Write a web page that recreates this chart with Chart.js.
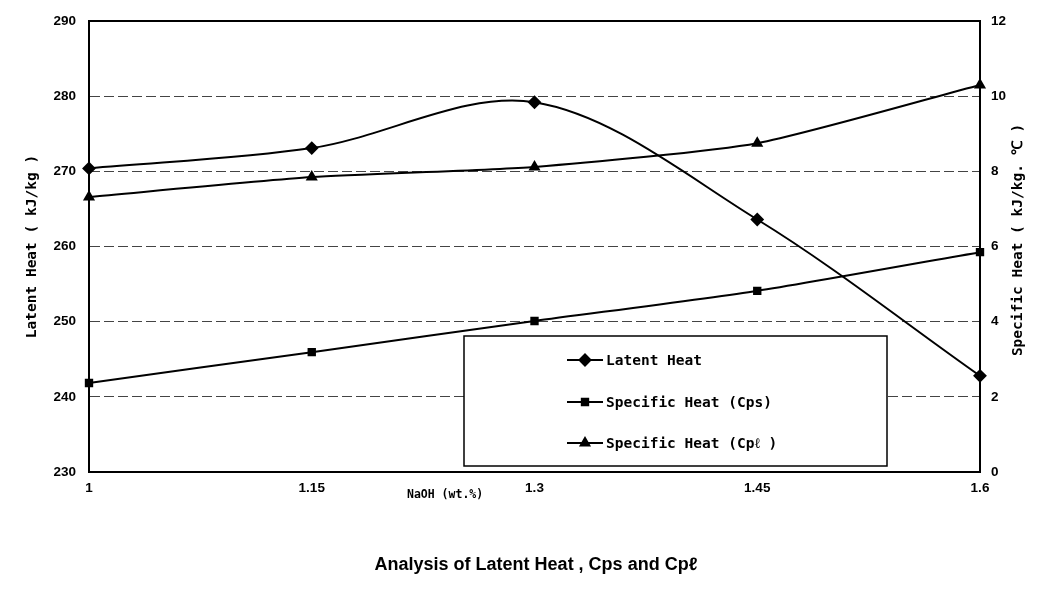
<!DOCTYPE html>
<html>
<head>
<meta charset="utf-8">
<script src="https://cdn.jsdelivr.net/npm/chart.js@4.4.1/dist/chart.umd.min.js"></script>
<style>
  html, body { margin: 0; padding: 0; background: #fff; }
  #wrap { width: 1039px; height: 594px; }
</style>
</head>
<body>
<div id="wrap"><canvas id="canvas" width="1039" height="594"></canvas></div>
<script>
// NaOH concentration (wt.%)
const naohLabels = ['1', '1.15', '1.3', '1.45', '1.6'];

// latent heat, kJ/kg (left axis)
const latentHeat = [270.4, 273.1, 279.2, 263.6, 242.8];
// specific heat of solid / liquid, kJ/kg.C (right axis)
const cpsValues = [2.37, 3.19, 4.02, 4.82, 5.85];
const cplValues = [7.32, 7.85, 8.12, 8.75, 10.3];

const leftMin = 230, leftMax = 290, leftStep = 10;
const rightMin = 0, rightMax = 12, rightStep = 2;

const seriesNames = ['Latent Heat', 'Specific Heat (Cps)', 'Specific Heat (Cp\u2113 )'];

const monoFont = "'DejaVu Sans Mono', monospace";
const tickFont = { family: "'Liberation Sans', Arial, sans-serif", size: 13.5, weight: 'bold' };

// frame, right title, x title, caption and the boxed legend
const extras = {
    id: 'extras',
    beforeDatasetsDraw(chart) {
        const { ctx, chartArea: a } = chart;
        ctx.save();
        ctx.strokeStyle = '#000';
        ctx.lineWidth = 2;
        ctx.beginPath();
        ctx.moveTo(a.left, a.top);
        ctx.lineTo(a.right, a.top);
        ctx.stroke();
        ctx.restore();
    },
    afterDraw(chart) {
        const { ctx } = chart;
        ctx.save();
        ctx.fillStyle = '#000';

        // right axis title, reading bottom to top
        ctx.save();
        ctx.translate(1018, 240);
        ctx.rotate(-Math.PI / 2);
        ctx.font = 'bold 14.5px ' + monoFont;
        ctx.textAlign = 'center';
        ctx.textBaseline = 'middle';
        ctx.fillText('Specific Heat ( kJ/kg. \u2103 )', 0, 0);
        ctx.restore();

        // x axis title
        ctx.font = 'bold 11.5px ' + monoFont;
        ctx.textAlign = 'left';
        ctx.textBaseline = 'middle';
        ctx.fillText('NaOH (wt.%)', 407, 495);

        // caption
        ctx.font = "bold 18px 'Liberation Sans', Arial, sans-serif";
        ctx.textAlign = 'center';
        ctx.fillText('Analysis of Latent Heat , Cps and Cp\u2113', 536, 565);

        // legend box
        const bx = 464, by = 336, bw = 423, bh = 130;
        ctx.fillStyle = '#fff';
        ctx.fillRect(bx, by, bw, bh);
        ctx.strokeStyle = '#000';
        ctx.lineWidth = 1.5;
        ctx.strokeRect(bx, by, bw, bh);

        const rows = [360, 402, 443];
        chart.data.datasets.forEach(function(ds, i) {
            const y = rows[i];
            ctx.strokeStyle = '#000';
            ctx.lineWidth = 2;
            ctx.beginPath();
            ctx.moveTo(567, y);
            ctx.lineTo(603, y);
            ctx.stroke();
            ctx.fillStyle = '#000';
            Chart.helpers.drawPoint(ctx, {
                pointStyle: ds.pointStyle,
                radius: ds.pointRadius,
                rotation: 0,
                borderWidth: 1
            }, 585, y);
            ctx.fillStyle = '#000';
            ctx.font = 'bold 14.5px ' + monoFont;
            ctx.textAlign = 'left';
            ctx.textBaseline = 'middle';
            ctx.fillText(ds.label, 606, y + 1);
        });
        ctx.restore();
    }
};

const ctx = document.getElementById('canvas').getContext('2d');
window.myChart = new Chart(ctx, {
    type: 'line',
    data: {
        labels: naohLabels,
        datasets: [
            {
                label: seriesNames[0],
                data: latentHeat,
                yAxisID: 'yLeft',
                borderColor: '#000',
                backgroundColor: '#000',
                borderWidth: 2,
                pointStyle: 'rectRot',
                pointRadius: 5.5,
                tension: 0.33,
                clip: false
            },
            {
                label: seriesNames[1],
                data: cpsValues,
                yAxisID: 'yRight',
                borderColor: '#000',
                backgroundColor: '#000',
                borderWidth: 2,
                pointStyle: 'rect',
                pointRadius: 4.5,
                tension: 0.2,
                clip: false
            },
            {
                label: seriesNames[2],
                data: cplValues,
                yAxisID: 'yRight',
                borderColor: '#000',
                backgroundColor: '#000',
                borderWidth: 2,
                pointStyle: 'triangle',
                pointRadius: 5,
                tension: 0.2,
                clip: false
            }
        ]
    },
    options: {
        responsive: false,
        animation: false,
        layout: { padding: { top: 21, left: 0, right: 0, bottom: 0 } },
        plugins: {
            legend: { display: false },
            title: { display: false },
            tooltip: { enabled: false }
        },
        scales: {
            x: {
                offset: false,
                grid: { display: false, drawTicks: false },
                border: { display: true, color: '#000', width: 2 },
                ticks: { color: '#000', font: tickFont, padding: 8, maxRotation: 0, autoSkip: false },
                afterFit: function(scale) { scale.height = 122; }
            },
            yLeft: {
                position: 'left',
                min: leftMin,
                max: leftMax,
                grid: { display: true, drawTicks: false, color: '#444', lineWidth: 1 },
                border: { display: true, color: '#000', width: 2, dash: [10, 4] },
                ticks: { stepSize: leftStep, color: '#000', font: tickFont, padding: 13 },
                title: {
                    display: true,
                    text: 'Latent Heat ( kJ/kg )',
                    color: '#000',
                    font: { family: monoFont, size: 14.5, weight: 'bold' },
                    padding: { top: 24, bottom: 0 }
                },
                afterFit: function(scale) { scale.width = 89; }
            },
            yRight: {
                position: 'right',
                min: rightMin,
                max: rightMax,
                grid: { display: false, drawTicks: false },
                border: { display: true, color: '#000', width: 2 },
                ticks: { stepSize: rightStep, color: '#000', font: tickFont, padding: 11 },
                afterFit: function(scale) { scale.width = 59; }
            }
        }
    },
    plugins: [extras]
});
</script>
</body>
</html>
